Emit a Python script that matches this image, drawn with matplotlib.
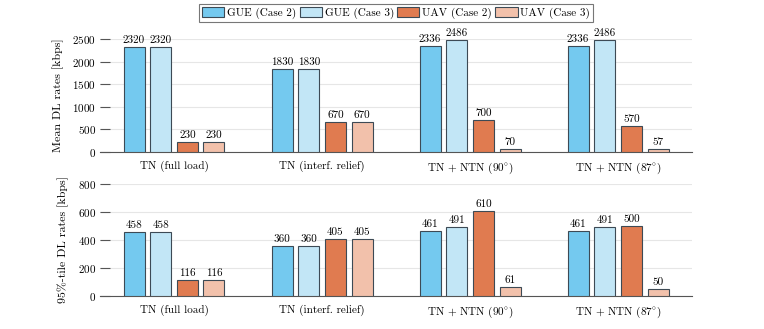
import matplotlib
matplotlib.use("Agg")
import matplotlib.pyplot as plt
import numpy as np

plt.rcParams['font.family'] = ['cmr10', 'DejaVu Serif']
plt.rcParams['mathtext.fontset'] = 'cm'
plt.rcParams['axes.formatter.use_mathtext'] = True
plt.rcParams['font.size'] = 8

categories = ['TN (full load)', 'TN (interf. relief)', r'TN + NTN (90$^{\circ}$)', r'TN + NTN (87$^{\circ}$)']
series = ['GUE (Case 2)', 'GUE (Case 3)', 'UAV (Case 2)', 'UAV (Case 3)']
mean_vals = [
    [2320, 1830, 2336, 2336],
    [2320, 1830, 2486, 2486],
    [230, 670, 700, 570],
    [230, 670, 70, 57],
]
p95_vals = [
    [458, 360, 461, 461],
    [458, 360, 491, 491],
    [116, 405, 610, 500],
    [116, 405, 61, 50],
]
colors = ['#74c9ef', '#c2e6f6', '#e07b50', '#f2c1ab']
edge = '#3d4a55'

fig = plt.figure(figsize=(7.64, 3.29), dpi=100)
ax1 = fig.add_axes([0.1309, 0.538, 0.775, 0.3435])
ax2 = fig.add_axes([0.1309, 0.1003, 0.775, 0.3404])

x = np.arange(len(categories))
offsets = [-0.27, -0.09, 0.09, 0.27]
width = 0.142

def draw(ax, data, ylim, yticks, ylabel):
    handles = []
    for i, (vals, c) in enumerate(zip(data, colors)):
        b = ax.bar(x + offsets[i], vals, width, color=c, edgecolor=edge, linewidth=0.8, zorder=3, label=series[i])
        ax.bar_label(b, labels=[str(v) for v in vals], padding=1.5, fontsize=8)
        handles.append(b)
    ax.set_xlim(-0.5, 3.5)
    ax.set_ylim(*ylim)
    ax.set_yticks(yticks)
    ax.set_xticks(x)
    ax.set_xticklabels(categories)
    ax.tick_params(axis='y', direction='in', length=7, width=0.8, color='#555555', pad=3)
    ax.tick_params(axis='x', length=0, pad=6)
    ax.grid(axis='y', color='#e6e6e6', linewidth=0.8, zorder=0)
    for s in ['top', 'right', 'left']:
        ax.spines[s].set_visible(False)
    ax.spines['bottom'].set_color('#555555')
    ax.spines['bottom'].set_linewidth(0.8)
    ax.set_ylabel(ylabel, labelpad=6, fontsize=8.6)
    return handles

h = draw(ax1, mean_vals, (0, 2500), [0, 500, 1000, 1500, 2000, 2500], 'Mean DL rates [kbps]')
draw(ax2, p95_vals, (0, 800), [0, 200, 400, 600, 800], '95%-tile DL rates [kbps]')

leg = fig.legend(handles=h, labels=series, loc='upper center', bbox_to_anchor=(0.5184, 1.005), ncol=4,
                 frameon=True, fancybox=False, edgecolor='#555555', handlelength=2.0, handleheight=1.1,
                 handletextpad=0.25, columnspacing=0.3, borderpad=0.25, fontsize=8)
leg.get_frame().set_linewidth(0.8)

fig.savefig('out.png', dpi=100)
